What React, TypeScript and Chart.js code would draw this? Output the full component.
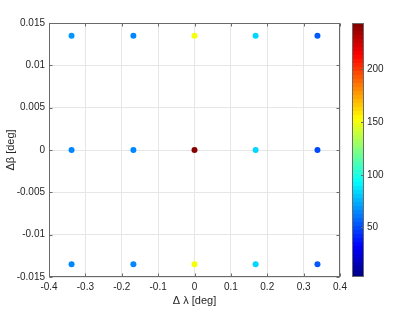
import React, { useEffect, useRef } from "react";
import { Chart, registerables } from "chart.js";

Chart.register(...registerables);

// Point positions (Δλ, Δβ) and colour values
const lambdaVals = [-0.338, -0.168, 0, 0.168, 0.338, -0.338, -0.168, 0, 0.168, 0.338, -0.338, -0.168, 0, 0.168, 0.338];
const betaVals = [0.0135, 0.0135, 0.0135, 0.0135, 0.0135, 0, 0, 0, 0, 0, -0.0135, -0.0135, -0.0135, -0.0135, -0.0135];
const colorVals = [68, 66, 150, 85, 54, 66, 66, 244, 85, 50, 66, 66, 150, 85, 54];

const xTicks = [-0.4, -0.3, -0.2, -0.1, 0, 0.1, 0.2, 0.3, 0.4];
const xTickLabels = ["-0.4", "-0.3", "-0.2", "-0.1", "0", "0.1", "0.2", "0.3", "0.4"];
const yTicks = [-0.015, -0.01, -0.005, 0, 0.005, 0.01, 0.015];
const yTickLabels = ["-0.015", "-0.01", "-0.005", "0", "0.005", "0.01", "0.015"];
const cbTicks = [50, 100, 150, 200];
const cbTickLabels = ["50", "100", "150", "200"];
const cMin = 3;
const cMax = 244;

const FONT = "'Liberation Sans', Arial, Helvetica, sans-serif";
const TEXT = "#262626";
const AXIS = "#6a6a6a";
const GRID = "#e6e6e6";
const NBANDS = 64;

function clamp(v: number) {
  return Math.max(0, Math.min(1, v));
}
function jet(t: number) {
  const r = clamp(1.5 - Math.abs(4 * t - 3));
  const g = clamp(1.5 - Math.abs(4 * t - 2));
  const b = clamp(1.5 - Math.abs(4 * t - 1));
  return `rgb(${Math.round(r * 255)},${Math.round(g * 255)},${Math.round(b * 255)})`;
}
function colorFor(v: number) {
  let i = Math.floor(((v - cMin) / (cMax - cMin)) * NBANDS);
  if (i < 0) i = 0;
  if (i > NBANDS - 1) i = NBANDS - 1;
  return jet((i + 0.5) / NBANDS);
}

const boxPlugin = {
  id: "matlabBox",
  afterDraw(chart: any) {
    const { ctx, chartArea: a, scales } = chart;
    const xs = scales.x;
    const ys = scales.y;
    const cb = scales.cb;
    ctx.save();
    ctx.strokeStyle = AXIS;
    ctx.lineWidth = 1;
    const L = Math.round(a.left) + 0.5;
    const R = Math.round(a.right) - 0.5;
    const T = Math.round(a.top) + 0.5;
    const B = Math.round(a.bottom) - 0.5;
    ctx.strokeRect(L, T, R - L, B - T);
    const tl = 3;
    ctx.beginPath();
    xTicks.forEach((v) => {
      const px = Math.round(xs.getPixelForValue(v)) + 0.5;
      ctx.moveTo(px, B);
      ctx.lineTo(px, B - tl);
      ctx.moveTo(px, T);
      ctx.lineTo(px, T + tl);
    });
    yTicks.forEach((v) => {
      const py = Math.round(ys.getPixelForValue(v)) + 0.5;
      ctx.moveTo(L, py);
      ctx.lineTo(L + tl, py);
      ctx.moveTo(R, py);
      ctx.lineTo(R - tl, py);
    });
    ctx.stroke();

    // colorbar
    const cx0 = 352;
    const cw = 12;
    for (let i = 0; i < NBANDS; i++) {
      const v0 = cMin + (i * (cMax - cMin)) / NBANDS;
      const v1 = cMin + ((i + 1) * (cMax - cMin)) / NBANDS;
      const y0 = cb.getPixelForValue(v1);
      const y1 = cb.getPixelForValue(v0);
      ctx.fillStyle = jet((i + 0.5) / NBANDS);
      ctx.fillRect(cx0, Math.floor(y0), cw, Math.ceil(y1) - Math.floor(y0));
    }
    const cT = Math.round(cb.getPixelForValue(cMax)) + 0.5;
    const cB = Math.round(cb.getPixelForValue(cMin)) - 0.5;
    ctx.strokeStyle = AXIS;
    ctx.strokeRect(cx0 + 0.5, cT, cw - 1, cB - cT);
    ctx.beginPath();
    cbTicks.forEach((v) => {
      const py = Math.round(cb.getPixelForValue(v)) + 0.5;
      ctx.moveTo(cx0 + cw - 0.5, py);
      ctx.lineTo(cx0 + cw - 3, py);
    });
    ctx.stroke();
    ctx.restore();
  },
};

export default function App() {
  const ref = useRef<HTMLCanvasElement>(null);
  useEffect(() => {
    if (!ref.current) return;
    const data = lambdaVals.map((x, i) => ({ x, y: betaVals[i] }));
    const colors = colorVals.map(colorFor);
    const chart = new Chart(ref.current, {
      type: "scatter",
      data: {
        datasets: [
          {
            data,
            pointBackgroundColor: colors,
            pointBorderColor: colors,
            pointRadius: 3,
            pointBorderWidth: 0,
          },
        ],
      },
      options: {
        animation: false,
        responsive: false,
        layout: { padding: { top: 23, left: 0, right: 0, bottom: 0 } },
        plugins: { legend: { display: false }, tooltip: { enabled: false } },
        scales: {
          x: {
            type: "linear",
            min: -0.4,
            max: 0.4,
            afterBuildTicks: (s: any) => {
              s.ticks = xTicks.map((v) => ({ value: v }));
            },
            afterFit: (s: any) => {
              s.height = 35;
            },
            grid: { color: GRID, drawTicks: false },
            border: { display: false },
            ticks: {
              padding: 4,
              color: TEXT,
              font: { family: FONT, size: 10 },
              maxRotation: 0,
              autoSkip: false,
              callback: (_v: any, i: number) => xTickLabels[i],
            },
            title: {
              display: true,
              text: "Δ λ [deg]",
              color: TEXT,
              font: { family: FONT, size: 11 },
              padding: { top: 0, bottom: 4 },
            },
          },
          y: {
            type: "linear",
            min: -0.015,
            max: 0.015,
            afterBuildTicks: (s: any) => {
              s.ticks = yTicks.map((v) => ({ value: v }));
            },
            afterFit: (s: any) => {
              s.width = 49;
            },
            grid: { color: GRID, drawTicks: false },
            border: { display: false },
            ticks: {
              padding: 4,
              color: TEXT,
              font: { family: FONT, size: 10 },
              autoSkip: false,
              callback: (_v: any, i: number) => yTickLabels[i],
            },
            title: {
              display: true,
              text: "Δβ [deg]",
              color: TEXT,
              font: { family: FONT, size: 11 },
              padding: { top: 4, bottom: 0 },
            },
          },
          cb: {
            type: "linear",
            position: "right",
            min: cMin,
            max: cMax,
            afterBuildTicks: (s: any) => {
              s.ticks = cbTicks.map((v) => ({ value: v }));
            },
            afterFit: (s: any) => {
              s.width = 75;
              s.paddingTop = 0;
              s.paddingBottom = 0;
            },
            grid: { display: false, drawTicks: false },
            border: { display: false },
            ticks: {
              padding: 27,
              color: TEXT,
              font: { family: FONT, size: 10 },
              autoSkip: false,
              callback: (_v: any, i: number) => cbTickLabels[i],
            },
          },
        },
      },
      plugins: [boxPlugin],
    } as any);
    return () => chart.destroy();
  }, []);
  return (
    <div style={{ position: "absolute", left: 0, top: 0, width: 415, height: 312, background: "#fff" }}>
      <canvas ref={ref} width={415} height={312} />
    </div>
  );
}
